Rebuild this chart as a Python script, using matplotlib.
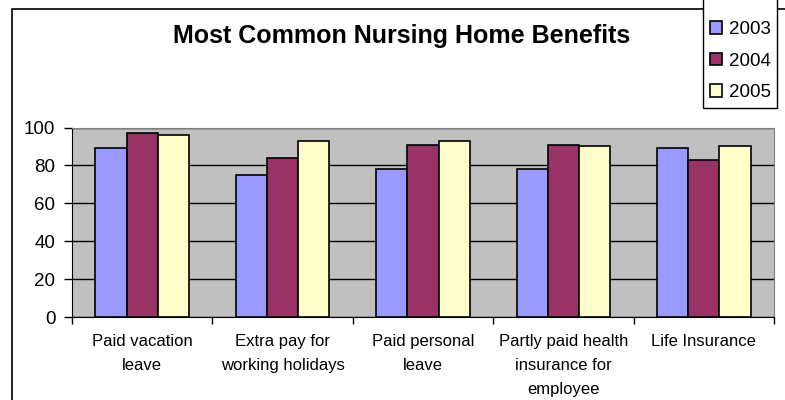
import numpy as np
import matplotlib.pyplot as plt
from matplotlib.patches import Rectangle

plt.rcParams['font.family'] = ['Liberation Sans', 'DejaVu Sans']

categories = ['Paid vacation\nleave', 'Extra pay for\nworking holidays', 'Paid personal\nleave',
              'Partly paid health\ninsurance for\nemployee', 'Life Insurance']
years = ['2003', '2004', '2005']
v2003 = [89, 75, 78, 78, 89]
v2004 = [97, 84, 91, 91, 83]
v2005 = [96, 93, 93, 90, 90]
colors = ['#9999FF', '#993366', '#FFFFCC']

W, H = 785, 400
fig = plt.figure(figsize=(W / 100, H / 100), dpi=100)
ax = fig.add_axes([72 / W, 1 - 317 / H, (774 - 72) / W, (317 - 127.5) / H])

x = np.arange(len(categories))
bw = 1 / 4.5
for i, (vals, c, lab) in enumerate(zip([v2003, v2004, v2005], colors, years)):
    ax.bar(x + (i - 1) * bw, vals, bw, color=c, edgecolor='black', linewidth=1.2,
           label=lab, zorder=3)

ax.set_facecolor('#C0C0C0')
ax.set_xlim(-0.5, len(categories) - 0.5)
ax.set_ylim(0, 100)
ax.set_yticks(range(0, 101, 20))
ax.yaxis.grid(True, color='black', linewidth=1, zorder=1)
ax.set_axisbelow(True)
ax.tick_params(axis='y', length=6, width=1, pad=6, labelsize=13.5)

ax.set_xticks(x)
ax.set_xticklabels(categories, fontsize=12, linespacing=1.75, va='top')
ax.set_xticks(np.arange(-0.5, len(categories)), minor=True)
ax.tick_params(axis='x', which='major', length=0, pad=12)
ax.tick_params(axis='x', which='minor', length=5, width=1)

for s in ['top', 'right']:
    ax.spines[s].set_color('#808080')
for s in ['left', 'bottom']:
    ax.spines[s].set_color('black')

# outer chart frame, runs off the bottom and right edge
fig.patches.append(Rectangle((12 / W, -0.1), 1.1, 1 - 9 / H + 0.1, transform=fig.transFigure,
                             facecolor='none', edgecolor='black', linewidth=1.2, zorder=0))
# legend box
fig.patches.append(Rectangle((703 / W, 1 - 108 / H), (777 - 703) / W, 0.5, transform=fig.transFigure,
                             facecolor='white', edgecolor='black', linewidth=1, zorder=1))

fig.text(402 / W, 1 - 36 / H, 'Most Common Nursing Home Benefits', ha='center', va='center',
         fontsize=18, fontweight='bold')

handles, labels = ax.get_legend_handles_labels()
leg = fig.legend(handles, labels, loc='upper left', bbox_to_anchor=(710 / W, 1 - 21 / H),
                 frameon=False, fontsize=13.5, handlelength=0.65, handleheight=0.65,
                 handletextpad=0.35, labelspacing=0.78, borderpad=0, borderaxespad=0)

fig.savefig('out.png', dpi=100, facecolor='white')
